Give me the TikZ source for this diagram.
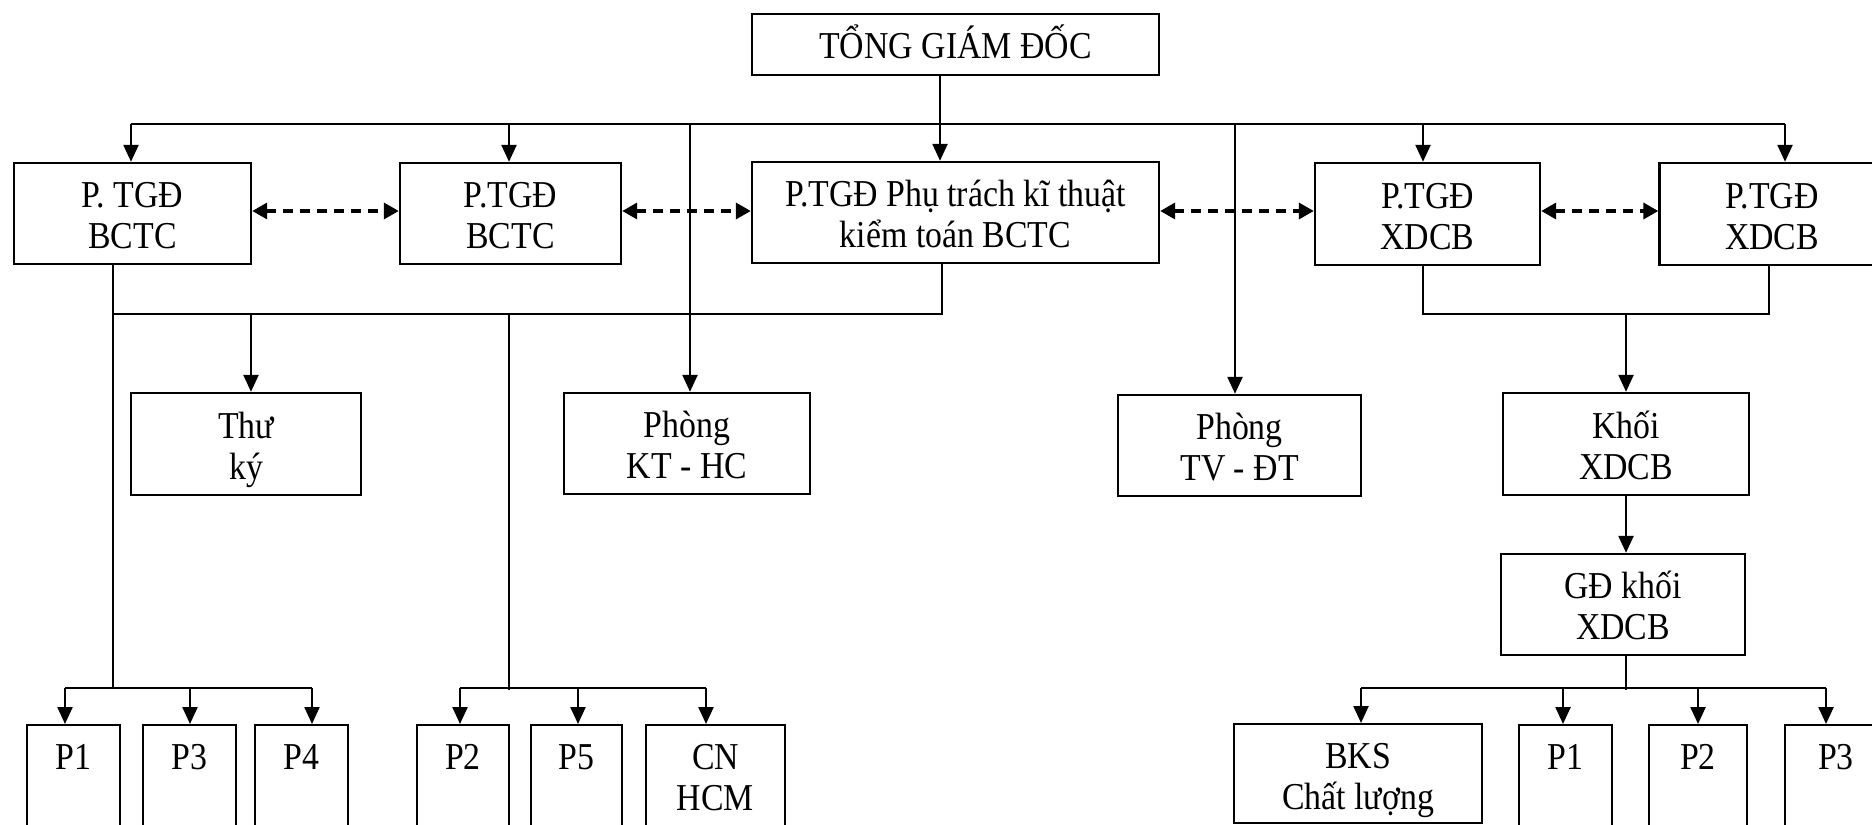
\documentclass[tikz,border=0pt]{standalone}
\usepackage{fontspec}
\setmainfont{Liberation Serif}[FakeStretch=0.89]
\usetikzlibrary{arrows.meta}
% one text line with a fixed height and depth, so accents do not shift it
\newcommand\bl[1]{\rule[-1.5pt]{0pt}{17.5pt}\smash{#1}}
\begin{document}
\begin{tikzpicture}[x=0.5pt,y=-0.5pt,
  txt/.style={font=\fontsize{19}{20.5}\selectfont},
  box/.style={draw, line width=1.2pt, inner sep=0pt, align=center, txt},
  pbox/.style={draw, line width=1.2pt, inner sep=0pt, anchor=north, minimum height=80pt},
  toplbl/.style={anchor=north, inner sep=0pt, yshift=-6.6pt, align=center, txt},
  thn/.style={draw, line width=0.9pt},
  thk/.style={draw, line width=1.2pt},
  arr/.style={draw, line width=1.2pt, -{Triangle[length=8.5pt,width=7.5pt]}},
  dbl/.style={draw, line width=1.7pt, dash pattern=on 5pt off 3.5pt,
    {Triangle[length=7.5pt,width=8pt]}-{Triangle[length=7.5pt,width=8pt]}}]
\useasboundingbox (0,0) rectangle (1872,824);
\clip (0,0) rectangle (1872,824);

% top management
\node[box, minimum width=203.5pt, minimum height=30.5pt] (tgd) at (955.5,44.5) {\bl{TỔNG GIÁM ĐỐC}};

% deputies
\node[box, minimum width=118.5pt, minimum height=50.5pt] (b1) at (132.5,213.5) {\bl{P. TGĐ}\\\bl{BCTC}};
\node[box, minimum width=110.5pt, minimum height=50.5pt] (b2) at (510.5,213.5) {\bl{P.TGĐ}\\\bl{BCTC}};
\node[box, minimum width=203.5pt, minimum height=50.5pt] (b3) at (955.5,212.5) {\bl{P.TGĐ Phụ trách kĩ thuật}\\\bl{kiểm toán BCTC}};
\node[box, minimum width=112.5pt, minimum height=51pt] (b4) at (1427.5,214) {\bl{P.TGĐ}\\\bl{XDCB}};
\node[box, minimum width=112.5pt, minimum height=51pt] (b5) at (1772,214) {\bl{P.TGĐ}\\\bl{XDCB}};

% middle row
\node[box, minimum width=115pt, minimum height=51pt] (thuky) at (246,444) {\bl{Thư}\\\bl{ký}};
\node[box, minimum width=123pt, minimum height=50.5pt] (kthc) at (687,443.5) {\bl{Phòng}\\\bl{KT - HC}};
\node[box, minimum width=121.5pt, minimum height=50.5pt] (tvdt) at (1239.5,445.5) {\bl{Phòng}\\\bl{TV - ĐT}};
\node[box, minimum width=123pt, minimum height=51pt] (khoi) at (1626,444) {\bl{Khối}\\\bl{XDCB}};
\node[box, minimum width=122pt, minimum height=50.5pt] (gd) at (1623,604.5) {\bl{GĐ khối}\\\bl{XDCB}};

% bottom row
\node[pbox, minimum width=46.5pt, label={[toplbl]north:\bl{P1}}] (lp1) at (73.5,724) {};
\node[pbox, minimum width=46.5pt, label={[toplbl]north:\bl{P3}}] (lp3) at (189.5,724) {};
\node[pbox, minimum width=46.5pt, label={[toplbl]north:\bl{P4}}] (lp4) at (301.5,724) {};
\node[pbox, minimum width=46pt, label={[toplbl]north:\bl{P2}}] (mp2) at (463,724) {};
\node[pbox, minimum width=45.5pt, label={[toplbl]north:\bl{P5}}] (mp5) at (576.5,724) {};
\node[pbox, minimum width=69.5pt, label={[toplbl]north:\bl{CN}\\\bl{HCM}}] (cn) at (715.5,724) {};
\node[pbox, minimum width=124pt, minimum height=49.5pt, label={[toplbl]north:\bl{BKS}\\\bl{Chất lượng}}] (bks) at (1358,723) {};
\node[pbox, minimum width=46.5pt, label={[toplbl]north:\bl{P1}}] (rp1) at (1565.5,724) {};
\node[pbox, minimum width=49pt, label={[toplbl]north:\bl{P2}}] (rp2) at (1698,724) {};
\node[pbox, minimum width=51pt, label={[toplbl]north:\bl{P3}}] (rp3) at (1836,724) {};

% junction points
\coordinate (a1) at (131,124);
\coordinate (a2) at (509,124);
\coordinate (tk) at (940,124);
\coordinate (a4) at (1423,124);
\coordinate (a5) at (1785,124);
\coordinate (a6) at (690,124);
\coordinate (a7) at (1235,124);
\coordinate (dy) at (0,211);
\coordinate (c1) at (113,314);
\coordinate (c2) at (251,314);
\coordinate (c3) at (942,314);
\coordinate (c4) at (509,314);
\coordinate (c4e) at (509,690);
\coordinate (d1) at (65,688);
\coordinate (d2) at (190,688);
\coordinate (d3) at (312,688);
\coordinate (g1) at (460,688);
\coordinate (g2) at (578,688);
\coordinate (g3) at (706,688);
\coordinate (e1) at (1423,314);
\coordinate (e2) at (1769,314);
\coordinate (e3) at (1626,314);
\coordinate (f0) at (1626,690);
\coordinate (f1) at (1361,688);
\coordinate (f2) at (1563,688);
\coordinate (f3) at (1698,688);
\coordinate (f4) at (1826,688);

% top distribution bus
\draw[thk] (a1) -- (a5);
\draw[arr] (tk |- tgd.south) -- (tk |- b3.north);
\draw[arr] (a1) -- (a1 |- b1.north);
\draw[arr] (a2) -- (a2 |- b2.north);
\draw[arr] (a4) -- (a4 |- b4.north);
\draw[arr] (a5) -- (a5 |- b5.north);
\draw[arr] (a6) -- (a6 |- kthc.north);
\draw[arr] (a7) -- (a7 |- tvdt.north);

% cooperation between deputies
\draw[dbl] (b1.east |- dy) -- (b2.west |- dy);
\draw[dbl] (b2.east |- dy) -- (b3.west |- dy);
\draw[dbl] (b3.east |- dy) -- (b4.west |- dy);
\draw[dbl] (b4.east |- dy) -- (b5.west |- dy);

% left branch
\draw[thn] (c1 |- b1.south) -- (c1 |- d1);
\draw[thn] (c1) -- (c3) -- (c3 |- b3.south);
\draw[arr] (c2) -- (c2 |- thuky.north);
\draw[thn] (c4) -- (c4e);
\draw[thk] (d1) -- (d3);
\draw[arr] (d1) -- (d1 |- lp1.north);
\draw[arr] (d2) -- (d2 |- lp3.north);
\draw[arr] (d3) -- (d3 |- lp4.north);
\draw[thk] (g1) -- (g3);
\draw[arr] (g1) -- (g1 |- mp2.north);
\draw[arr] (g2) -- (g2 |- mp5.north);
\draw[arr] (g3) -- (g3 |- cn.north);

% right branch
\draw[thn] (e1 |- b4.south) -- (e1) -- (e2) -- (e2 |- b5.south);
\draw[arr] (e3) -- (e3 |- khoi.north);
\draw[arr] (khoi.south) -- (khoi.south |- gd.north);
\draw[thn] (gd.south -| f0) -- (f0);
\draw[thk] (f1) -- (f4);
\draw[arr] (f1) -- (f1 |- bks.north);
\draw[arr] (f2) -- (f2 |- rp1.north);
\draw[arr] (f3) -- (f3 |- rp2.north);
\draw[arr] (f4) -- (f4 |- rp3.north);
\end{tikzpicture}
\end{document}
